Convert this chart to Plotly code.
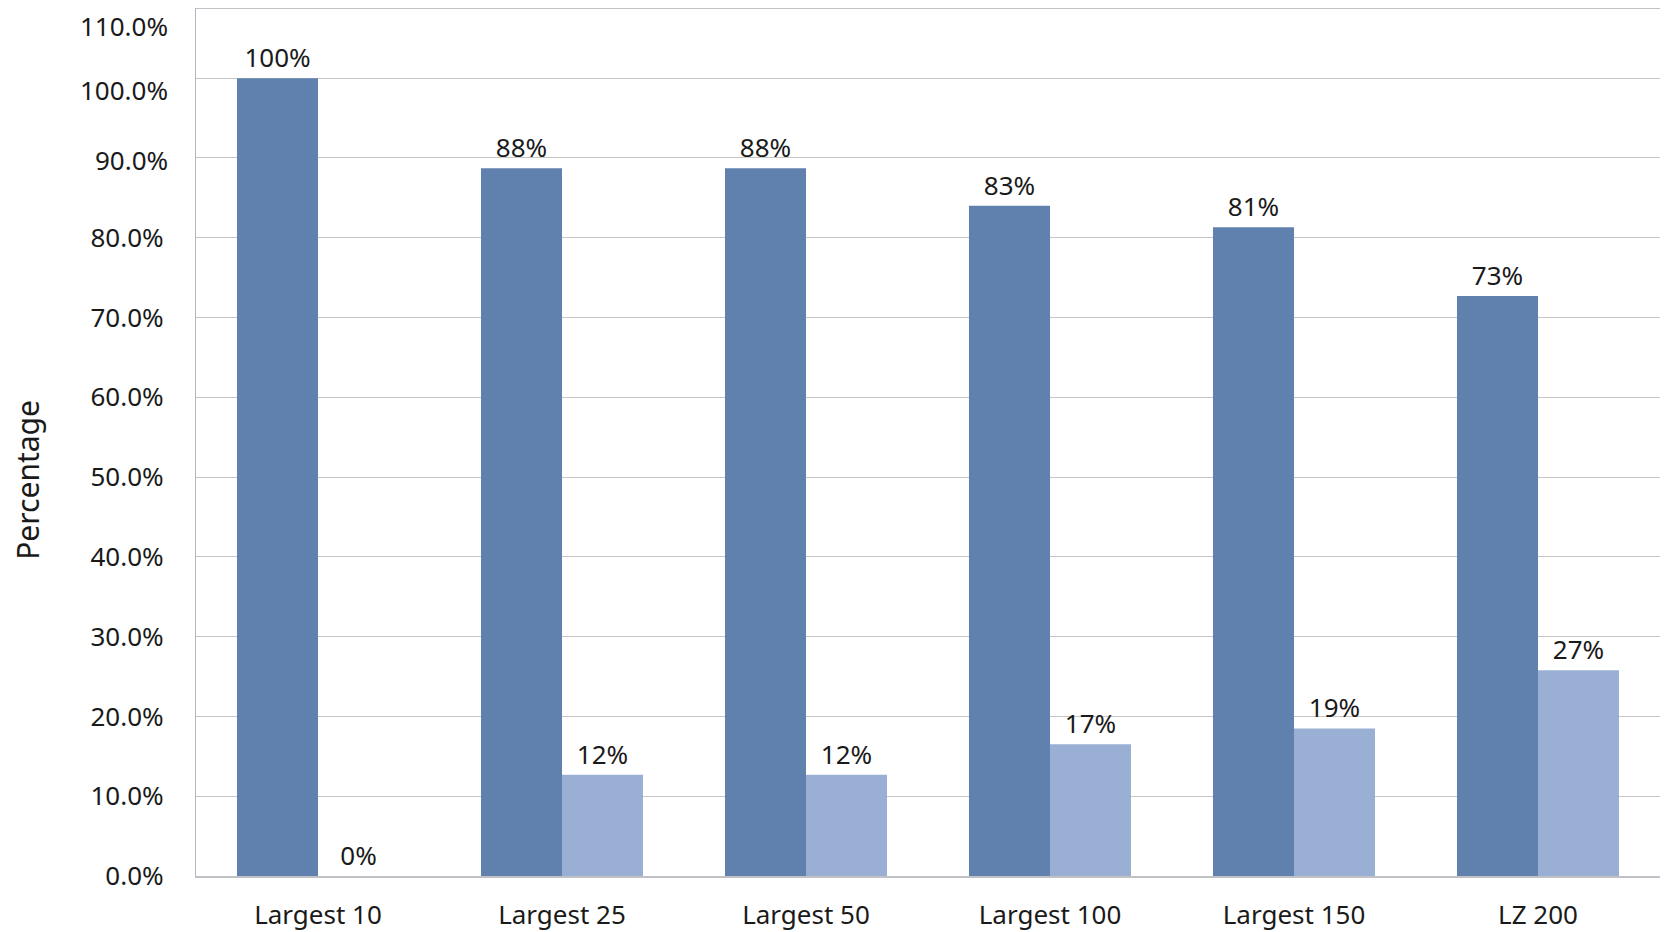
import plotly.graph_objects as go

categories = ["Largest 10", "Largest 25", "Largest 50", "Largest 100", "Largest 150", "LZ 200"]
series_a = [1.000, 0.887, 0.887, 0.840, 0.813, 0.727]
series_a_labels = ["100%", "88%", "88%", "83%", "81%", "73%"]
series_b = [0.000, 0.127, 0.127, 0.165, 0.185, 0.258]
series_b_labels = ["0%", "12%", "12%", "17%", "19%", "27%"]
tick_vals = [0.0, 0.1, 0.2, 0.3, 0.4, 0.5, 0.6, 0.7, 0.8, 0.9, 1.0, 1.0865]
tick_text = ["0.0%", "10.0%", "20.0%", "30.0%", "40.0%", "50.0%", "60.0%",
             "70.0%", "80.0%", "90.0%", "100.0%", "110.0%"]
# the top three labels sit slightly off their gridlines in the reference
shifted_labels = {"90.0%": 0.897, "100.0%": 0.985, "110.0%": 1.065}

FONT = "'Noto Sans', Lato, sans-serif"
TXT = "#1a1a1a"
FS = 26

fig = go.Figure()
fig.add_trace(go.Bar(x=categories, y=series_a, text=series_a_labels,
                     textposition="outside", cliponaxis=False,
                     marker=dict(color="#6081AD", line=dict(width=0)),
                     textfont=dict(family=FONT, size=FS, color=TXT)))
fig.add_trace(go.Bar(x=categories, y=series_b, text=series_b_labels,
                     textposition="outside", cliponaxis=False,
                     marker=dict(color="#9AAFD4", line=dict(width=0)),
                     textfont=dict(family=FONT, size=FS, color=TXT)))

# page body has an 8px margin, so the figure is sized 8px smaller
fig.update_layout(
    width=1660, height=924,
    margin=dict(l=188, r=8, t=1, b=56, autoexpand=False),
    paper_bgcolor="white", plot_bgcolor="white",
    barmode="group", bargap=0.336, bargroupgap=0,
    showlegend=False,
    font=dict(family=FONT, size=FS, color=TXT),
)
axis_text = [("" if t in shifted_labels else t) for t in tick_text]
fig.update_yaxes(range=[0, 1.0867], tickvals=tick_vals, ticktext=axis_text,
                 automargin=False,
                 showgrid=True, gridcolor="#C6C6C6", gridwidth=1.2,
                 showline=True, linecolor="#B4B4BE", linewidth=1.2,
                 zeroline=False,
                 ticks="outside", ticklen=26, tickcolor="rgba(0,0,0,0)",
                 tickfont=dict(family=FONT, size=FS, color=TXT))
fig.update_xaxes(automargin=False, showline=True, mirror=True,
                 linecolor="#C0C0C6", linewidth=1.5,
                 ticks="outside", ticklen=15, tickcolor="rgba(0,0,0,0)",
                 tickfont=dict(family=FONT, size=FS, color=TXT))

for label, yv in shifted_labels.items():
    fig.add_annotation(text=label, xref="paper", yref="y",
                       x=(169 - 196) / 1464, y=yv, xanchor="right", yanchor="middle",
                       height=24, borderpad=0,
                       showarrow=False, font=dict(family=FONT, size=FS, color=TXT))

fig.add_annotation(text="Percentage", xref="paper", yref="paper",
                   x=(28 - 196) / 1464, y=0.457, xanchor="center", yanchor="middle",
                   textangle=-90, showarrow=False, borderpad=0,
                   font=dict(family=FONT, size=30, color=TXT))

fig.write_html("out.html")
